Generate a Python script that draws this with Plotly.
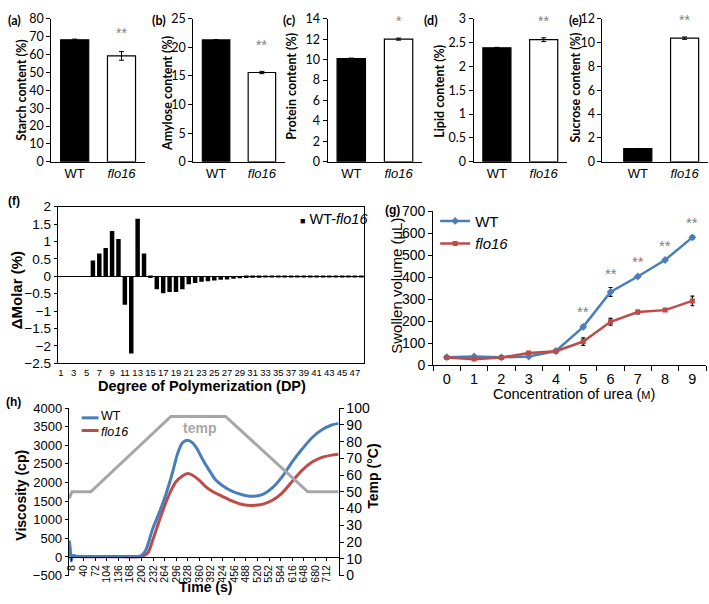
import plotly.graph_objects as go

W, H = 709, 604


def fx(p):
    return p / W


def fy(p):
    return 1 - p / H


# ---------------- data: panels (a)-(e) ----------------
groups = ["WT", "flo16"]
starch = [68.2, 59.2]
starch_err = [0.4, 2.4]
amylose = [21.3, 15.6]
amylose_err = [0.05, 0.2]
protein = [10.1, 12.0]
protein_err = [0.05, 0.1]
lipid = [2.39, 2.56]
lipid_err = [0.01, 0.04]
sucrose = [1.1, 10.37]
sucrose_err = [0.02, 0.1]
top_signif = ["**", "**", "*", "**", "**"]

# ---------------- data: panel (f) ----------------
dp = list(range(1, 49))
dp_labels = list(range(1, 48, 2))
delta_molar = [0, 0, 0, 0, 0,
               0.45, 0.65, 0.81, 1.30, 1.07,
               -0.82, -2.22, 1.65, 0.65, -0.05,
               -0.37, -0.49, -0.45, -0.45, -0.37,
               -0.23, -0.19, -0.16, -0.14, -0.12,
               -0.10, -0.09, -0.07, -0.06, -0.05,
               -0.04, -0.04, -0.03, -0.03, -0.03,
               -0.03, -0.02, -0.02, -0.02, -0.02,
               -0.02, -0.02, -0.02, -0.02, -0.02,
               -0.02, -0.02, -0.02]

# ---------------- data: panel (g) ----------------
urea = ["0", "1", "2", "3", "4", "5", "6", "7", "8", "9"]
wt_swell = [37, 40, 36, 40, 65, 175, 334, 404, 479, 582]
wt_swell_err = [5, 4, 4, 4, 5, 8, 20, 6, 6, 8]
flo_swell = [35, 28, 35, 56, 64, 108, 198, 242, 251, 293]
flo_swell_err = [5, 5, 4, 5, 7, 17, 15, 8, 6, 22]
g_signif = ["", "", "", "", "", "**", "**", "**", "**", "**"]

# ---------------- data: panel (h) ----------------
h_time_wt = [0, 3, 6, 10, 20, 50, 100, 150, 190, 200, 212, 231, 249, 267, 286, 299,
             313, 327, 341, 354, 368, 387, 405, 423, 451, 478, 505, 533, 560, 588,
             615, 643, 670, 698, 725, 744]
h_visc_wt = [440, 250, -110, 40, 20, 10, 10, 10, 15, 40, 191, 758, 1194, 1673, 2283, 2763,
             3067, 3137, 3067, 2894, 2633, 2327, 2065, 1920, 1760, 1673, 1630, 1673, 1847, 2152,
             2544, 2894, 3197, 3416, 3547, 3590]
h_time_flo = [0, 4, 8, 20, 50, 100, 150, 200, 217, 231, 249, 267, 281, 295, 313, 327,
              341, 359, 377, 396, 423, 451, 478, 505, 533, 560, 588, 615, 643, 670,
              698, 725, 744]
h_visc_flo = [90, 60, 20, 10, 5, 5, 5, 10, 105, 453, 976, 1455, 1778, 2021, 2178, 2240,
              2196, 2065, 1890, 1760, 1630, 1500, 1412, 1386, 1412, 1516, 1717, 2021, 2327, 2544,
              2675, 2737, 2763]
h_time_temp = [0, 8, 60, 281, 432, 659, 744]
h_temp = [46, 50, 50, 95, 95, 50, 50]
h_ticks = list(range(8, 713, 32))

# ---------------- styling ----------------
FA = "Liberation Sans, Arial, sans-serif"
FC = "Lato, Carlito, Calibri, sans-serif"
BLUE = "#4A7EBB"
RED = "#BE4B48"
GRAY = "#A6A6A6"
STAR = "#7F7F7F"

fig = go.Figure()
layout = dict(width=W, height=H, margin=dict(l=0, r=0, t=0, b=0),
              paper_bgcolor="white", plot_bgcolor="rgba(0,0,0,0)",
              showlegend=True, font=dict(family=FA, color="black"))
annotations = []
shapes = []


def note(px, py, text, size, family=FA, color="black", angle=0, xanchor="center"):
    annotations.append(dict(
        x=fx(px), y=fy(py), xref="paper", yref="paper", text=text, textangle=angle,
        showarrow=False, xanchor=xanchor, yanchor="middle",
        font=dict(family=family, size=size, color=color)))


# ---------------- (a)-(e) ----------------
top_vals = [starch, amylose, protein, lipid, sucrose]
top_errs = [starch_err, amylose_err, protein_err, lipid_err, sucrose_err]
top_titles = ["Starch content (%)", "Amylose content (%)", "Protein content (%)",
              "Lipid content (%)", "Sucrose content (%)"]
top_letters = ["(a)", "(b)", "(c)", "(d)", "(e)"]
top_ymax = [80, 25, 14, 3, 12]
top_dtick = [10, 5, 2, 0.5, 2]
top_xdom = [(48.5, 142.5), (191, 283), (326, 421), (472.5, 566.5), (602, 708)]
top_xrange = [(-0.5, 1.5)] * 4 + [(-0.755, 1.5)]
top_title_x = [19, 165, 290, 439, 575]
top_title_y = [84, 88, 80, 86, 82]
top_label_x = [12, 157, 287, 430, 575]
top_star_shift = [9, 16, 7, 7, 7]

for i in range(5):
    s = "" if i == 0 else str(i + 1)
    fig.add_trace(go.Bar(
        x=[0, 1], y=top_vals[i], width=0.6,
        marker=dict(color=["black", "white"], line=dict(color="black", width=1.2)),
        error_y=dict(type="data", array=top_errs[i], color="black", thickness=1, width=2.5),
        xaxis="x" + s, yaxis="y" + s, showlegend=False, hoverinfo="skip"))
    layout["xaxis" + s] = dict(
        domain=[fx(top_xdom[i][0]), fx(top_xdom[i][1])], range=list(top_xrange[i]),
        anchor="y" + s, showline=True, linecolor="black", linewidth=1, ticks="",
        tickvals=[0, 1], ticktext=[groups[0], "<i>" + groups[1] + "</i>"],
        tickfont=dict(family=FA, size=13, color="black"), showgrid=False, zeroline=False)
    layout["yaxis" + s] = dict(
        domain=[fy(158), fy(11)], range=[0, top_ymax[i]], dtick=top_dtick[i],
        anchor="x" + s, showline=True, linecolor="black", linewidth=1, ticks="outside",
        ticklen=4, tickcolor="black", tickfont=dict(family=FC, size=12.5, color="black"),
        showgrid=False, zeroline=False)
    annotations.append(dict(
        x=1, y=top_vals[i][1] + top_errs[i][1], xref="x" + s, yref="y" + s,
        text=top_signif[i], showarrow=False, xanchor="center", yanchor="bottom",
        yshift=top_star_shift[i], font=dict(family=FA, size=14, color=STAR)))
    note(top_title_x[i], top_title_y[i], "<b>" + top_titles[i] + "</b>", 12.5, FC, angle=-90)
    note(top_label_x[i], 13, "<b>" + top_letters[i] + "</b>", 12.5, FC)

# ---------------- (f) ----------------
fig.add_trace(go.Bar(x=dp, y=delta_molar, width=0.7, marker=dict(color="black", line=dict(width=0)),
                     xaxis="x6", yaxis="y6", showlegend=False, hoverinfo="skip"))
layout["xaxis6"] = dict(
    domain=[fx(55), fx(363)], range=[0.5, 48.5], anchor="y6", tickvals=dp_labels,
    ticks="", showline=True, mirror=True, linecolor="black", linewidth=1,
    tickfont=dict(family=FA, size=9.5, color="black"), showgrid=False, zeroline=False)
layout["yaxis6"] = dict(
    domain=[fy(365), fy(204)], range=[-2.5, 2], dtick=0.5, anchor="x6",
    ticks="outside", ticklen=3, tickcolor="black", showline=True, mirror=True,
    linecolor="black", linewidth=1, zeroline=True, zerolinecolor="black", zerolinewidth=1,
    tickfont=dict(family=FA, size=13.5, color="black"), showgrid=False)
note(296, 217, "<span style='font-size:9px'>■</span> WT-<i>flo16</i>", 14.5, xanchor="left")
note(13, 290, "<b>ΔMolar (%)</b>", 15, angle=-90)
note(200, 388, "<b>Degree of Polymerization (DP)</b>", 14.5)
note(11, 198, "<b>(f)</b>", 12)

# ---------------- (g) ----------------
fig.add_trace(go.Scatter(
    x=urea, y=wt_swell, name="WT", mode="lines+markers",
    line=dict(color=BLUE, width=2.5), marker=dict(symbol="diamond", size=6, color=BLUE),
    error_y=dict(type="data", array=wt_swell_err, color="black", thickness=1.2, width=2),
    xaxis="x7", yaxis="y7", legend="legend", hoverinfo="skip"))
fig.add_trace(go.Scatter(
    x=urea, y=flo_swell, name="<i>flo16</i>", mode="lines+markers",
    line=dict(color=RED, width=2.5), marker=dict(symbol="square", size=5, color=RED),
    error_y=dict(type="data", array=flo_swell_err, color="black", thickness=1.2, width=2),
    xaxis="x7", yaxis="y7", legend="legend", hoverinfo="skip"))
layout["xaxis7"] = dict(
    type="category", domain=[fx(432), fx(706)], range=[-0.5, 9.5], anchor="y7",
    tickson="boundaries", ticks="outside", ticklen=5, tickcolor="black",
    showline=True, linecolor="black", linewidth=1, showgrid=False, zeroline=False,
    tickfont=dict(family=FA, size=14.5, color="black"))
layout["yaxis7"] = dict(
    domain=[fy(367), fy(209)], range=[0, 700], dtick=100, anchor="x7",
    ticks="outside", ticklen=4, tickcolor="black", showline=True, linecolor="black",
    linewidth=1, showgrid=False, zeroline=False,
    tickfont=dict(family=FA, size=14, color="black"))
layout["legend"] = dict(
    x=fx(434), y=fy(202), xanchor="left", yanchor="top", bgcolor="rgba(0,0,0,0)",
    font=dict(family=FA, size=15, color="black"), itemwidth=30, tracegroupgap=0)
for k in range(len(urea)):
    if g_signif[k]:
        annotations.append(dict(
            x=urea[k], y=wt_swell[k] + wt_swell_err[k], xref="x7", yref="y7",
            text=g_signif[k], showarrow=False, xanchor="center", yanchor="bottom", yshift=3,
            font=dict(family=FA, size=15, color=STAR)))
note(395, 285, "Swollen volume (μL)", 15, angle=-90)
note(573, 397, "Concentration of urea (<span style='font-size:11px'>M</span>)", 14.5)
note(391, 207, "<b>(g)</b>", 12)

# ---------------- (h) ----------------
ydom8 = [fy(583), fy(411)]
vmin, vmax = -500, 4000
xpos8 = ydom8[0] + (0 - vmin) / (vmax - vmin) * (ydom8[1] - ydom8[0])
fig.add_trace(go.Scatter(
    x=h_time_temp, y=h_temp, mode="lines", line=dict(color=GRAY, width=3),
    xaxis="x8", yaxis="y9", showlegend=False, hoverinfo="skip"))
fig.add_trace(go.Scatter(
    x=h_time_flo, y=h_visc_flo, mode="lines",
    line=dict(color=RED, width=3, shape="spline", smoothing=0.8),
    xaxis="x8", yaxis="y8", showlegend=False, hoverinfo="skip"))
fig.add_trace(go.Scatter(
    x=h_time_wt, y=h_visc_wt, mode="lines",
    line=dict(color=BLUE, width=3, shape="spline", smoothing=0.8),
    xaxis="x8", yaxis="y8", showlegend=False, hoverinfo="skip"))
layout["xaxis8"] = dict(
    domain=[fx(66), fx(337)], range=[-1, 744], anchor="free", position=xpos8,
    tickvals=h_ticks, tickangle=-90, ticks="outside", ticklen=3, tickcolor="black",
    showline=True, linecolor="black", linewidth=1, showgrid=False, zeroline=False,
    tickfont=dict(family=FA, size=10.5, color="black"))
layout["yaxis8"] = dict(
    domain=ydom8, range=[vmin, vmax], dtick=500, anchor="x8", ticks="outside",
    ticklen=3, tickcolor="black", showline=True, linecolor="black", linewidth=1,
    showgrid=False, zeroline=False, tickfont=dict(family=FA, size=13, color="black"))
layout["yaxis9"] = dict(
    domain=ydom8, range=[0, 100], dtick=10, anchor="x8", overlaying="y8", side="right",
    ticks="outside", ticklen=4, tickcolor="black", showline=True, linecolor="black",
    linewidth=1, showgrid=False, zeroline=False,
    tickfont=dict(family=FA, size=14, color="black"))
shapes += [
    dict(type="line", xref="paper", yref="paper", x0=fx(79), x1=fx(96), y0=fy(421), y1=fy(421),
         line=dict(color=BLUE, width=3)),
    dict(type="line", xref="paper", yref="paper", x0=fx(79), x1=fx(96), y0=fy(434), y1=fy(434),
         line=dict(color=RED, width=3)),
]
note(96, 419.5, "WT", 12.5, xanchor="left")
note(96, 435.5, "<i>flo16</i>", 12.5, xanchor="left")
note(197, 431, "<b>temp</b>", 14, color=GRAY)
note(18, 500, "<b>Viscosity (cp)</b>", 14, angle=-90)
note(372, 481, "<b>Temp (°C)</b>", 14, angle=-90)
note(203, 595, "<b>Time (s)</b>", 14)
note(11, 405, "<b>(h)</b>", 12)

layout["annotations"] = annotations
layout["shapes"] = shapes
fig.update_layout(**layout)
fig.write_html("out.html", config={"displayModeBar": False},
               post_script="document.body.style.margin='0px';document.body.style.overflow='hidden';")
